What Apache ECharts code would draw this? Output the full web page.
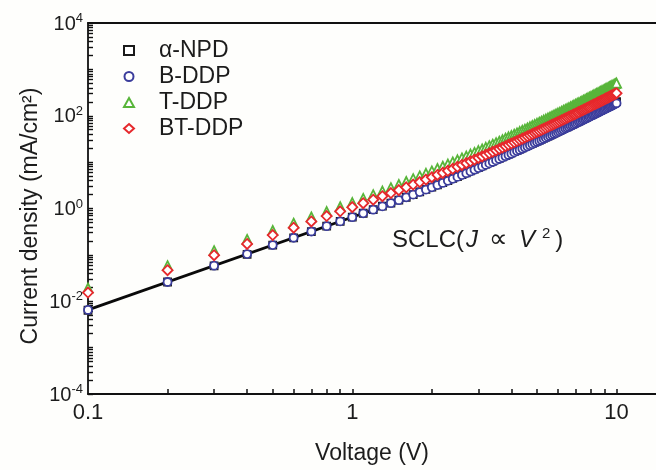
<!DOCTYPE html>
<html><head><meta charset="utf-8">
<script src="https://cdn.jsdelivr.net/npm/echarts@6/dist/echarts.min.js"></script>
<style>html,body{margin:0;padding:0;background:#fefefc}#c{width:656px;height:470px}</style>
</head><body><div id="c"></div>
<script>
const voltage = [
0.1,0.2,0.3,0.4,0.5,0.6,0.7,0.8,0.9,1.0,
1.1,1.2,1.3,1.4,1.5,1.6,1.7,1.8,1.9,2.0,
2.1,2.2,2.3,2.4,2.5,2.6,2.7,2.8,2.9,3.0,
3.1,3.2,3.3,3.4,3.5,3.6,3.7,3.8,3.9,4.0,
4.1,4.2,4.3,4.4,4.5,4.6,4.7,4.8,4.9,5.0,
5.1,5.2,5.3,5.4,5.5,5.6,5.7,5.8,5.9,6.0,
6.1,6.2,6.3,6.4,6.5,6.6,6.7,6.8,6.9,7.0,
7.1,7.2,7.3,7.4,7.5,7.6,7.7,7.8,7.9,8.0,
8.1,8.2,8.3,8.4,8.5,8.6,8.7,8.8,8.9,9.0,
9.1,9.2,9.3,9.4,9.5,9.6,9.7,9.8,9.9,10.0];
const npd = [
0.0064,0.026,0.058,0.103,0.162,0.233,0.318,0.415,0.526,0.65,
0.79,0.945,1.12,1.31,1.52,1.75,2.00,2.28,2.58,2.90,
3.25,3.62,4.02,4.45,4.90,5.39,5.90,6.45,7.03,7.65,
8.35,9.03,9.75,10.5,11.3,12.1,13.0,13.9,14.9,15.9,
16.9,18.0,19.1,20.3,21.5,22.8,24.1,25.5,26.9,28.4,
29.9,31.5,33.1,34.8,36.6,38.4,40.3,42.3,44.3,46.4,
48.5,50.7,53.0,55.4,57.8,60.3,62.9,65.6,68.3,71.2,
74.1,77.1,80.2,83.4,86.7,90.0,93.5,97.0,101,104,
108,112,116,120,124,129,133,138,142,147,
152,157,162,167,172,178,183,189,195,201];
const bddp = [
0.0065,0.026,0.0585,0.104,0.163,0.234,0.319,0.416,0.527,0.65,
0.788,0.942,1.11,1.30,1.51,1.74,1.99,2.26,2.55,2.86,
3.20,3.56,3.95,4.36,4.80,5.27,5.76,6.29,6.85,7.43,
8.05,8.71,9.39,10.1,10.9,11.7,12.5,13.4,14.3,15.2,
16.2,17.3,18.3,19.5,20.6,21.8,23.1,24.4,25.8,27.2,
28.6,30.1,31.7,33.3,35.0,36.7,38.5,40.4,42.3,44.3,
46.3,48.4,50.5,52.8,55.0,57.4,59.8,62.3,64.9,67.5,
70.2,73.0,75.9,78.8,81.9,84.9,88.1,91.4,94.7,98.1,
102,105,109,113,117,121,125,129,133,137,
142,146,151,156,160,165,170,176,181,186];
const tddp = [
0.0193,0.0585,0.123,0.215,0.335,0.483,0.658,0.858,1.09,1.34,
1.65,1.99,2.38,2.81,3.29,3.82,4.40,5.03,5.72,6.47,
7.28,8.14,9.08,10.1,11.2,12.3,13.5,14.9,16.2,17.7,
19.2,20.9,22.6,24.4,26.3,28.3,30.4,32.8,35.1,37.4,
40.1,42.7,45.5,48.4,51.4,54.5,57.9,61.3,64.9,68.5,
72.4,76.3,80.5,84.9,89.4,93.9,98.7,104,109,114,
119,125,131,137,143,149,156,163,170,176,
185,191,199,208,216,224,233,243,251,261,
271,281,291,301,311,323,335,345,357,369,
382,394,408,421,435,449,462,477,491,507];
const btddp = [
0.0154,0.0468,0.0983,0.172,0.268,0.386,0.526,0.686,0.869,1.07,
1.30,1.55,1.84,2.15,2.49,2.87,3.28,3.72,4.20,4.72,
5.28,5.87,6.51,7.19,7.92,8.69,9.51,10.4,11.3,12.3,
13.3,14.4,15.5,16.7,17.9,19.2,20.6,22.1,23.6,25.1,
26.8,28.5,30.3,32.1,34.0,36.0,38.1,40.3,42.5,44.8,
47.2,49.7,52.3,55.0,57.8,60.6,63.6,66.6,69.8,73.0,
76.4,79.8,83.4,87.0,90.8,94.7,98.7,103,107,111,
116,120,125,130,135,140,145,151,156,162,
168,174,180,186,192,199,206,212,219,226,
234,241,249,257,265,273,281,290,298,307];
const fitV = [0.1, 2.0];
const fitJ = [0.0065, 2.6];
const seriesNames = ['α-NPD', 'B-DDP', 'T-DDP', 'BT-DDP'];
const xMin = 0.1, xMax = 14.1, yMin = 1e-4, yMax = 1e4;
const xLabelTicks = [0.1, 1, 10];
const xTicks = [0.2,0.3,0.4,0.5,0.6,0.7,0.8,0.9,1,2,3,4,5,6,7,8,9,10];
const yLabelTicks = [1e-4, 1e-2, 1, 1e2, 1e4];
const yTicks = [];
for (let e = -4; e < 4; e++) for (let m = 1; m <= 9; m++) yTicks.push(+(m * Math.pow(10, e)).toPrecision(3));
yTicks.push(1e4);

const FONT = 'Liberation Sans, Arial, sans-serif';
const TXT = '#1c1c1c';
const pts = arr => voltage.map((v, i) => [v, arr[i]]);
const chart = echarts.init(document.getElementById('c'), null, {renderer: 'canvas'});
const hollow = (name, symbol, size, color, data) => ({
  name, type: 'scatter', symbol, symbolSize: size, data: pts(data),
  itemStyle: {color: '#ffffff', borderColor: color, borderWidth: 1.8, opacity: 1},
  emphasis: {disabled: true}, animation: false, z: 3
});
const lineStyleAxis = {color: '#111', width: 1.8};
const fitData = fitV.map((v, i) => [v, fitJ[i]]);
chart.setOption({
  backgroundColor: '#fefefc',
  animation: false,
  grid: {left: 88, top: 23, right: 0, bottom: 76},
  legend: {
    data: seriesNames, orient: 'vertical', left: 118, top: 34,
    itemWidth: 10, itemHeight: 9, itemGap: 3,
    textStyle: {fontFamily: FONT, fontSize: 23, color: TXT, lineHeight: 22, padding: [0, 0, 0, 20]},
    selectedMode: false
  },
  xAxis: [
    {type: 'log', logBase: 10, min: xMin, max: xMax, position: 'bottom',
     axisLine: {show: true, onZero: false, lineStyle: lineStyleAxis},
     axisTick: {show: true, inside: true, length: 5, lineStyle: {color: '#111', width: 1.5}, customValues: xTicks},
     axisLabel: {show: true, customValues: xLabelTicks, margin: 8, fontFamily: FONT, fontSize: 22, color: TXT,
       formatter: v => (Math.abs(v - 0.1) < 1e-9 ? '0.1' : String(Math.round(v)))},
     splitLine: {show: false}, minorTick: {show: false},
     name: 'Voltage (V)', nameLocation: 'middle', nameGap: 48,
     nameTextStyle: {fontFamily: FONT, fontSize: 23, color: TXT}},
    {type: 'log', logBase: 10, min: xMin, max: xMax, position: 'top',
     axisLine: {show: true, onZero: false, lineStyle: lineStyleAxis},
     axisTick: {show: false}, axisLabel: {show: false}, splitLine: {show: false}}
  ],
  yAxis: [
    {type: 'log', logBase: 10, min: yMin, max: yMax, position: 'left',
     axisLine: {show: true, onZero: false, lineStyle: lineStyleAxis},
     axisTick: {show: true, inside: true, length: 5, lineStyle: {color: '#111', width: 1.4}, customValues: yTicks},
     axisLabel: {show: true, customValues: yLabelTicks, margin: 5, fontFamily: FONT, color: TXT,
       formatter: v => '{b|10}{s|' + Math.round(Math.log10(v)) + '}',
       rich: {b: {fontFamily: FONT, fontSize: 20, color: TXT, lineHeight: 22, verticalAlign: 'bottom'},
              s: {fontFamily: FONT, fontSize: 13, color: TXT, lineHeight: 22, verticalAlign: 'top', padding: [0, 0, 8, 0]}}},
     splitLine: {show: false}}
  ],
  graphic: [{
    type: 'text', left: 392, top: 226, z: 10,
    style: {
      text: '{n|SCLC(}{i|J}{o|∝}{i|V}{p|2}{n|)}',
      rich: {
        n: {fontFamily: FONT, fontSize: 24, fill: TXT, lineHeight: 28},
        o: {fontFamily: FONT, fontSize: 26, fill: TXT, lineHeight: 28, padding: [0, 9, 0, 9]},
        i: {fontFamily: FONT, fontSize: 24, fontStyle: 'italic', fill: TXT, lineHeight: 28, padding: [0, 2, 0, 2]},
        p: {fontFamily: FONT, fontSize: 15, fill: TXT, lineHeight: 28, verticalAlign: 'top', padding: [0, 5, 10, 5]}
      }
    }
  }, {
    type: 'text', x: 31, y: 216, rotation: Math.PI / 2, z: 10,
    style: {text: 'Current density (mA/cm²)', fontFamily: FONT, fontSize: 23, fill: TXT,
            align: 'center', verticalAlign: 'middle'}
  }],
  series: [
    {name: 'SCLC fit', type: 'line', xAxisIndex: 0, yAxisIndex: 0, data: fitData, showSymbol: false, symbol: 'none',
     lineStyle: {color: '#0a0a0a', width: 2.8}, z: 2, silent: true},
    {name: 'top-axis', type: 'line', xAxisIndex: 1, yAxisIndex: 0, data: fitData, showSymbol: false, symbol: 'none',
     lineStyle: {opacity: 0, width: 0}, silent: true, z: 0},
    hollow(seriesNames[0], 'rect', 7, '#1a1a1a', npd),
    hollow(seriesNames[1], 'circle', 8, '#3b3d9c', bddp),
    hollow(seriesNames[2], 'triangle', 9, '#58b53a', tddp),
    hollow(seriesNames[3], 'diamond', 10, '#e6282c', btddp)
  ]
});
</script></body></html>
